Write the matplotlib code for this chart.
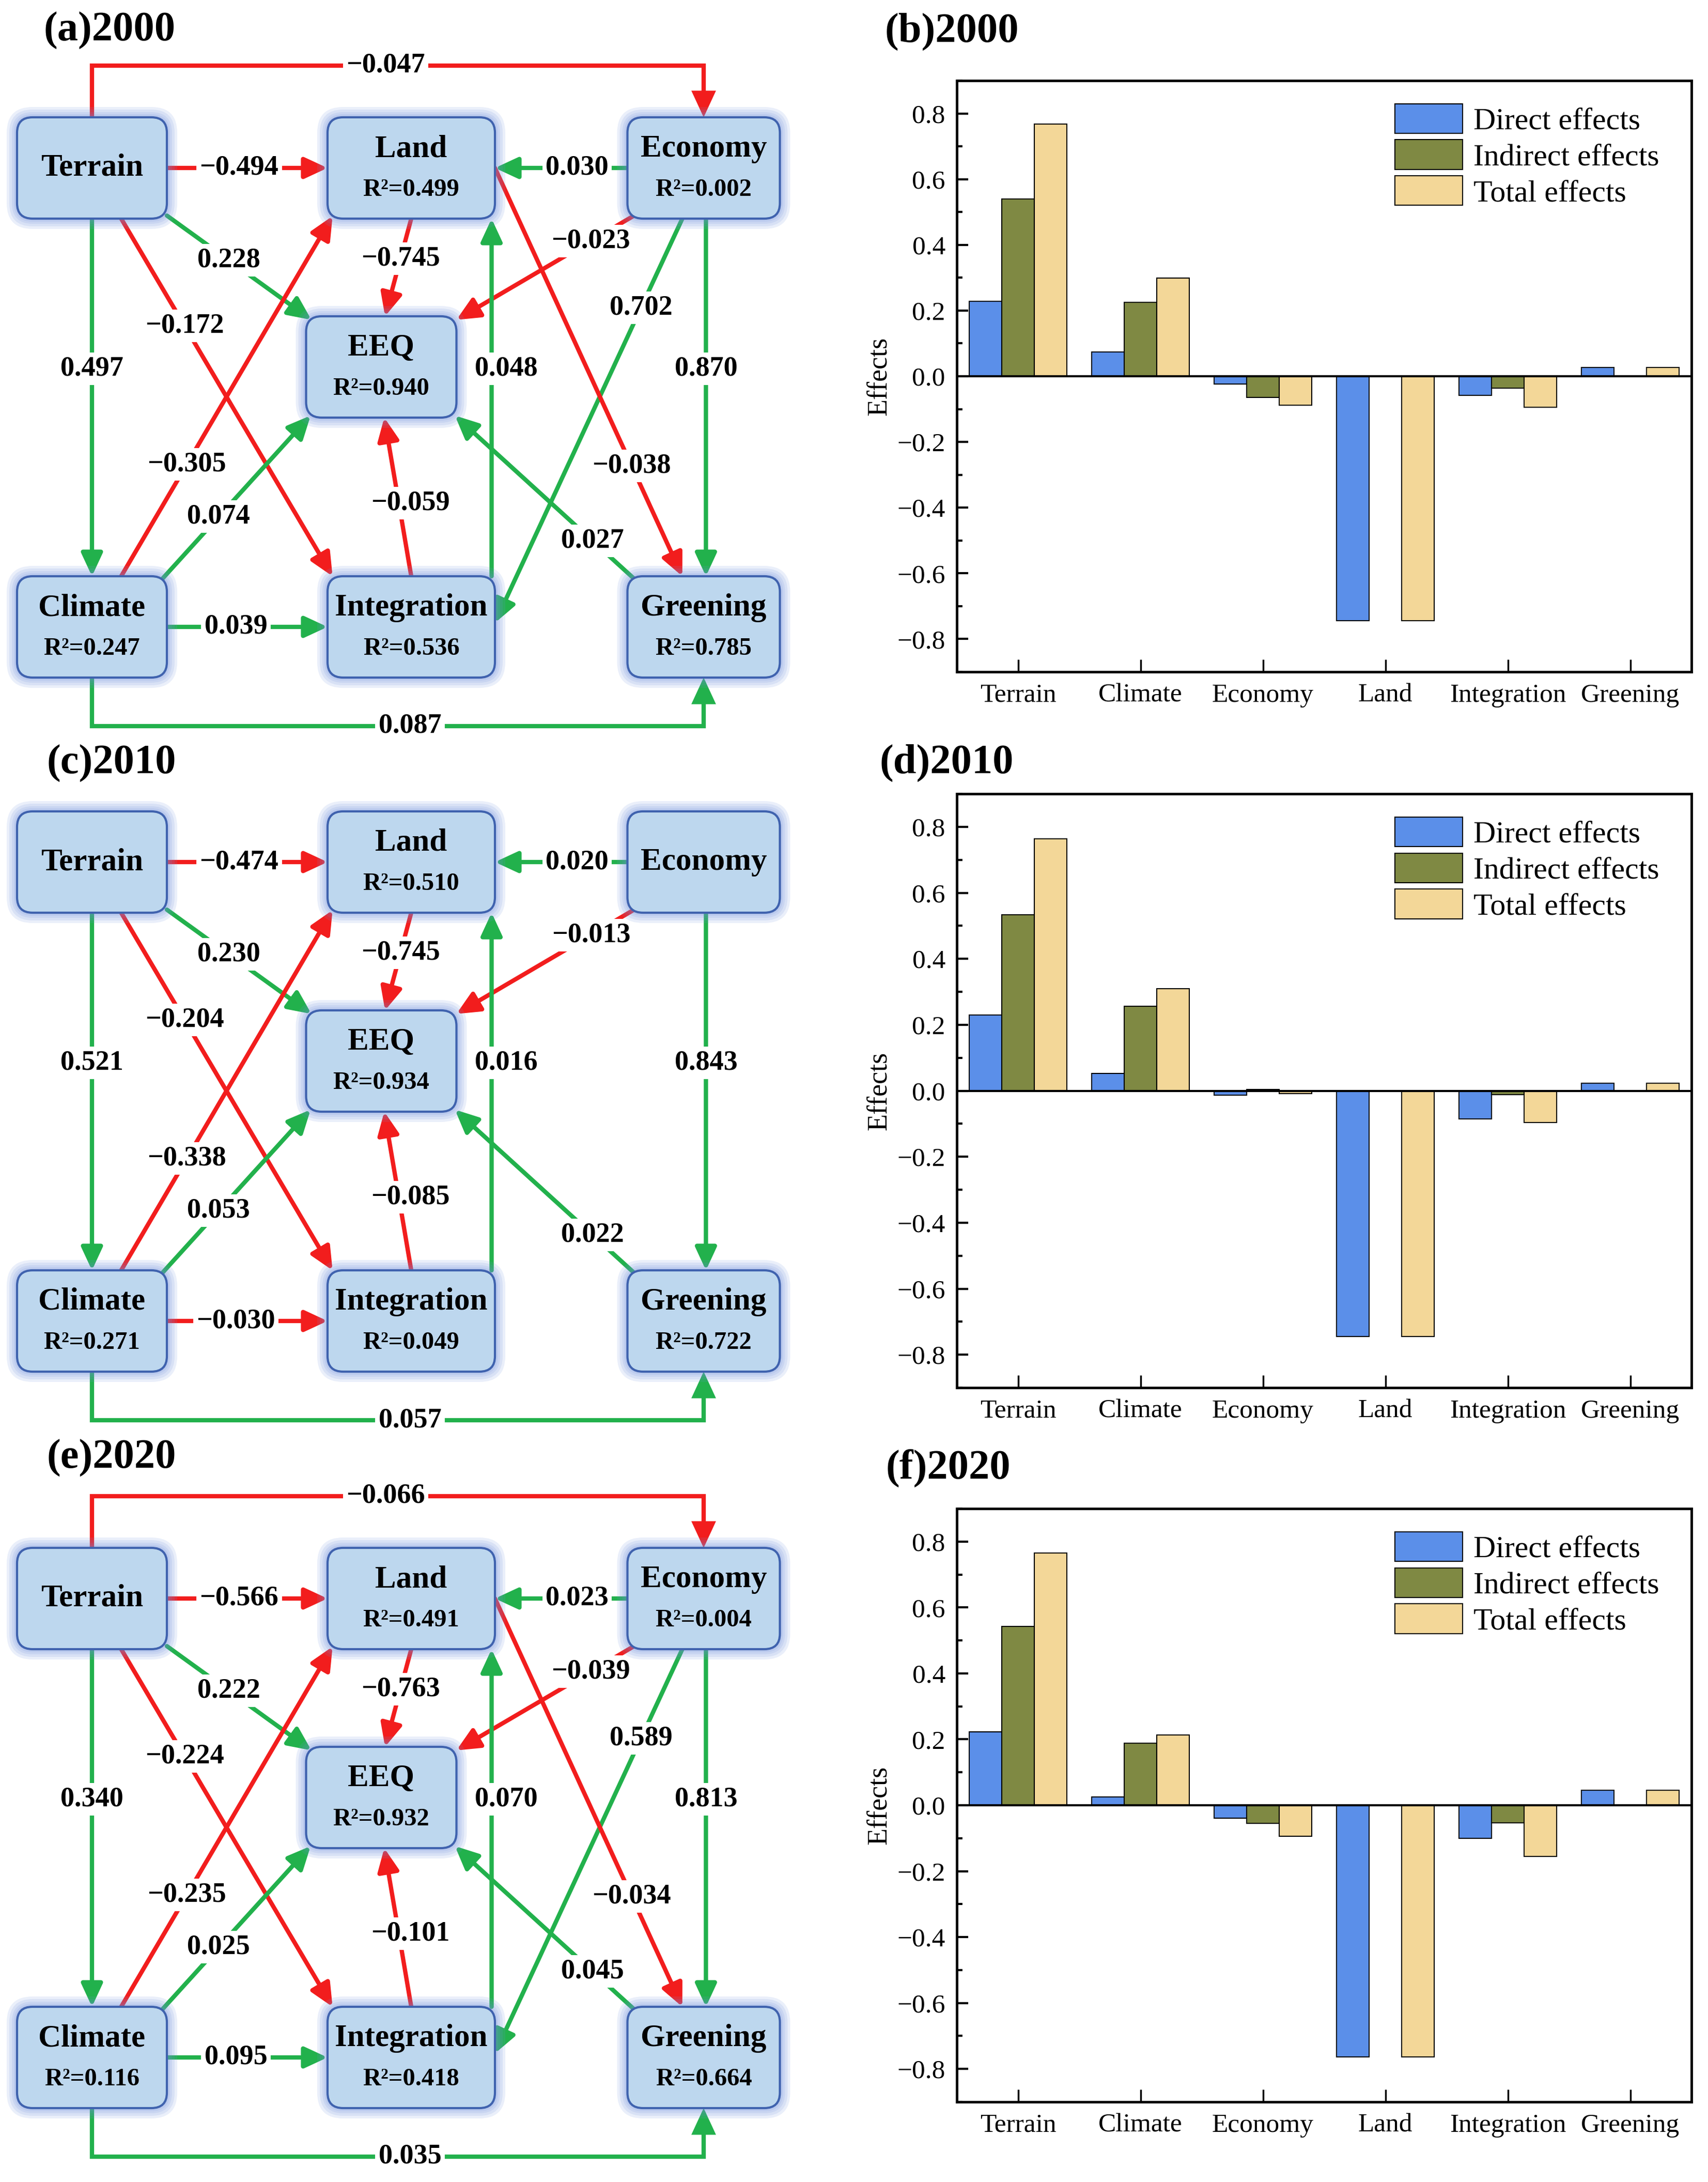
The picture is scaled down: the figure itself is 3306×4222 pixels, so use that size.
import numpy as np
import matplotlib.pyplot as plt
from matplotlib.patches import FancyBboxPatch, FancyArrowPatch
from matplotlib.path import Path
from matplotlib.ticker import MultipleLocator, FuncFormatter

plt.rcParams['font.family'] = ['Liberation Serif', 'DejaVu Serif']

# ==============================
#  DATA
# ==============================
years = ['2000', '2010', '2020']
nodes = ['Terrain', 'Land', 'Economy', 'EEQ', 'Climate', 'Integration', 'Greening']

# R2 of each node (None = exogenous / not shown)
r2_2000 = [None, 0.499, 0.002, 0.940, 0.247, 0.536, 0.785]
r2_2010 = [None, 0.510, None, 0.934, 0.271, 0.049, 0.722]
r2_2020 = [None, 0.491, 0.004, 0.932, 0.116, 0.418, 0.664]

# paths of the model (source, target)
edges = [('Terrain', 'Economy'), ('Terrain', 'Land'), ('Economy', 'Land'),
         ('Terrain', 'EEQ'), ('Terrain', 'Integration'), ('Terrain', 'Climate'),
         ('Land', 'EEQ'), ('Economy', 'EEQ'), ('Economy', 'Integration'),
         ('Integration', 'Land'), ('Economy', 'Greening'), ('Climate', 'Land'),
         ('Climate', 'EEQ'), ('Integration', 'EEQ'), ('Land', 'Greening'),
         ('Greening', 'EEQ'), ('Climate', 'Integration'), ('Climate', 'Greening')]

# path coefficients (None = path absent)
coef_2000 = [-0.047, -0.494, 0.030, 0.228, -0.172, 0.497, -0.745, -0.023, 0.702,
             0.048, 0.870, -0.305, 0.074, -0.059, -0.038, 0.027, 0.039, 0.087]
coef_2010 = [None, -0.474, 0.020, 0.230, -0.204, 0.521, -0.745, -0.013, None,
             0.016, 0.843, -0.338, 0.053, -0.085, None, 0.022, -0.030, 0.057]
coef_2020 = [-0.066, -0.566, 0.023, 0.222, -0.224, 0.340, -0.763, -0.039, 0.589,
             0.070, 0.813, -0.235, 0.025, -0.101, -0.034, 0.045, 0.095, 0.035]

factors = ['Terrain', 'Climate', 'Economy', 'Land', 'Integration', 'Greening']
direct_2000 = [0.228, 0.074, -0.023, -0.745, -0.059, 0.027]
indirect_2000 = [0.540, 0.225, -0.065, 0.0, -0.036, 0.0]
total_2000 = [0.768, 0.299, -0.088, -0.745, -0.095, 0.027]
direct_2010 = [0.230, 0.053, -0.013, -0.745, -0.085, 0.022]
indirect_2010 = [0.534, 0.256, 0.004, 0.0, -0.012, 0.0]
total_2010 = [0.764, 0.309, -0.009, -0.745, -0.097, 0.022]
direct_2020 = [0.222, 0.025, -0.039, -0.763, -0.101, 0.045]
indirect_2020 = [0.543, 0.188, -0.055, 0.0, -0.054, 0.0]
total_2020 = [0.765, 0.213, -0.094, -0.763, -0.155, 0.045]

r2_all = [r2_2000, r2_2010, r2_2020]
coef_all = [coef_2000, coef_2010, coef_2020]
direct_all = [direct_2000, direct_2010, direct_2020]
indirect_all = [indirect_2000, indirect_2010, indirect_2020]
total_all = [total_2000, total_2010, total_2020]

# ==============================
#  LAYOUT (pixels)
# ==============================
W, H = 3306, 4222
row_y = [325, 1668, 3093]          # Terrain centre of each diagram
node_pos = {'Terrain': (178, 0), 'Land': (796, 0), 'Economy': (1362, 0), 'EEQ': (738, 385),
            'Climate': (178, 888), 'Integration': (796, 888), 'Greening': (1362, 888)}
node_w = {'Terrain': 290, 'Land': 324, 'Economy': 295, 'EEQ': 291,
          'Climate': 290, 'Integration': 324, 'Greening': 295}
box_h = 196

# (source anchor, target anchor, label position along edge, label x shift)
edge_geom = [
    ('top', None, 0.48, 0),
    ((1, 0), (-1, 0), 0.45, 0),
    ((-1, 0), (1, 0), 0.38, 0),
    ((1, 0.94), (-0.93, -0.93), 0.43, 0),
    ((0.39, 1), (-0.94, -1), 0.30, 0),
    ((0, 1), (0, -1), 0.42, 0),
    ((0, 1), (0.05, -1), 0.41, 0),
    ((-0.89, 0.92), (1, -0.93), 0.25, 0),
    ((-0.28, 1), (1, -0.08), 0.22, 0),
    ((0.96, -1), (0.96, 1), 0.58, 28),
    ((0.03, 1), (0.03, -1), 0.42, 0),
    ((0.39, -1), (-0.94, 0.95), 0.31, 0),
    ((0.94, -0.95), (-0.94, 0.96), 0.38, 0),
    ((0, -1), (0.04, 1), 0.46, 22),
    ((1, 0), (-0.28, -1), 0.73, 0),
    ((-0.89, -0.92), (0.98, 0.96), 0.24, 0),
    ((1, 0), (-1, 0), 0.43, 0),
    ('bottom', None, 0.52, 0),
]

RED = '#F21D1D'
GREEN = '#22B14C'
BOX_FC = '#BDD7EE'
BOX_EC = '#3F62AE'
GLOW = '#6F8FDC'
C_DIR, C_IND, C_TOT = '#5B8FE9', '#7F8943', '#F3D798'

fig = plt.figure(figsize=(W / 100, H / 100), dpi=100)
ax0 = fig.add_axes([0, 0, 1, 1])
ax0.set_xlim(0, W)
ax0.set_ylim(H, 0)
ax0.axis('off')


def fmt(v):
    return f'{v:.3f}'.replace('-', '\u2212')


def anchor(name, y0, a):
    cx, cy = node_pos[name]
    return (cx + a[0] * node_w[name] / 2, y0 + cy + a[1] * box_h / 2)


arrow_style = '-|>,head_length=2.7,head_width=1.25'

for k in range(3):
    y0 = row_y[k]
    coefs = coef_all[k]
    # edges
    for (src, dst), v, geo in zip(edges, coefs, edge_geom):
        if v is None:
            continue
        col = RED if v < 0 else GREEN
        a_src, a_dst, frac, dx = geo
        if a_src in ('top', 'bottom'):
            sx, sy = node_pos[src]
            tx, ty = node_pos[dst]
            if a_src == 'top':
                ys, ye = y0 + sy - box_h / 2, y0 + ty - box_h / 2
                yl = y0 + sy - 198
            else:
                ys, ye = y0 + sy + box_h / 2, y0 + ty + box_h / 2
                yl = y0 + sy + 192
            verts = [(sx, ys), (sx, yl), (tx, yl), (tx, ye)]
            p = Path(verts, [Path.MOVETO, Path.LINETO, Path.LINETO, Path.LINETO])
            arr = FancyArrowPatch(path=p, arrowstyle=arrow_style, mutation_scale=10,
                                  lw=6, color=col, joinstyle='miter', zorder=2)
            ax0.add_patch(arr)
            lx, ly = sx + frac * (tx - sx), yl
        else:
            p0 = anchor(src, y0, a_src)
            p1 = anchor(dst, y0, a_dst)
            arr = FancyArrowPatch(p0, p1, arrowstyle=arrow_style, mutation_scale=10,
                                  lw=6, color=col, shrinkA=0, shrinkB=0, zorder=2)
            ax0.add_patch(arr)
            lx = p0[0] + frac * (p1[0] - p0[0]) + dx
            ly = p0[1] + frac * (p1[1] - p0[1])
        ax0.text(lx, ly, fmt(v), ha='center', va='center', fontsize=39,
                 fontweight='bold', zorder=4,
                 bbox=dict(boxstyle='square,pad=0.12', fc='white', ec='none'))
    # boxes
    for name, r2 in zip(nodes, r2_all[k]):
        cx, cy = node_pos[name]
        cy = y0 + cy
        w = node_w[name]
        for d in [20, 15, 10, 6, 3]:
            ax0.add_patch(FancyBboxPatch((cx - w / 2 - d, cy - box_h / 2 - d), w + 2 * d, box_h + 2 * d,
                                         boxstyle=f'round,pad=0,rounding_size={30 + d}',
                                         fc=GLOW, ec='none', alpha=0.14, zorder=5))
        ax0.add_patch(FancyBboxPatch((cx - w / 2, cy - box_h / 2), w, box_h,
                                     boxstyle='round,pad=0,rounding_size=30',
                                     fc=BOX_FC, ec=BOX_EC, lw=3, zorder=6))
        if r2 is None:
            ax0.text(cx, cy, name, ha='center', va='center', fontsize=44,
                     fontweight='bold', zorder=7)
        else:
            ax0.text(cx, cy - 37, name, ha='center', va='center', fontsize=44,
                     fontweight='bold', zorder=7)
            ax0.text(cx, cy + 42, f'R\u00b2={r2:.3f}', ha='center', va='center',
                     fontsize=35, fontweight='bold', zorder=7)

# panel labels
diag_lab = [(85, 59), (90, 1477), (90, 2821)]
bar_lab = [(1712, 61), (1703, 1476), (1714, 2841)]
for k in range(3):
    ax0.text(*diag_lab[k], f'({"ace"[k]}){years[k]}', ha='left', va='center',
             fontsize=58, fontweight='bold')
    ax0.text(*bar_lab[k], f'({"bdf"[k]}){years[k]}', ha='left', va='center',
             fontsize=58, fontweight='bold')

# ==============================
#  BAR CHARTS
# ==============================
bar_box = [(156, 1300), (1536, 2685), (2919, 4067)]
left, right = 1852, 3274
x = np.arange(len(factors))
bw = 0.267


def tick_fmt(v, pos):
    if abs(v) < 1e-9:
        v = 0.0
    return f'{v:.1f}'.replace('-', '\u2212')


for k in range(3):
    top, bot = bar_box[k]
    ax = fig.add_axes([left / W, 1 - bot / H, (right - left) / W, (bot - top) / H])
    ax.bar(x - bw, direct_all[k], bw, color=C_DIR, edgecolor='black', lw=1.5,
           label='Direct effects', zorder=2)
    ax.bar(x, indirect_all[k], bw, color=C_IND, edgecolor='black', lw=1.5,
           label='Indirect effects', zorder=2)
    ax.bar(x + bw, total_all[k], bw, color=C_TOT, edgecolor='black', lw=1.5,
           label='Total effects', zorder=2)
    ax.axhline(0, color='black', lw=3, zorder=3)
    ax.set_xlim(-0.5, 5.5)
    ax.set_ylim(-0.9, 0.9)
    ax.yaxis.set_major_locator(MultipleLocator(0.2))
    ax.yaxis.set_minor_locator(MultipleLocator(0.1))
    ax.yaxis.set_major_formatter(FuncFormatter(tick_fmt))
    ax.tick_params(axis='y', which='major', direction='in', length=16, width=3,
                   labelsize=37, pad=16)
    ax.tick_params(axis='y', which='minor', direction='in', length=8, width=3)
    ax.set_xticks(x)
    ax.set_xticklabels(factors)
    ax.tick_params(axis='x', direction='in', length=17, width=2.5, labelsize=37, pad=16)
    for s in ax.spines.values():
        s.set_linewidth(3.5)
    ax.set_ylabel('Effects', fontsize=39)
    ax.yaxis.set_label_coords(-0.088, 0.5)
    ax.legend(loc='upper left', bbox_to_anchor=(0.596, 0.961), frameon=False,
              fontsize=43, handlelength=2.2, handleheight=1.1, handletextpad=0.35,
              labelspacing=0.13, borderpad=0, borderaxespad=0)

fig.savefig('out.png', dpi=100)
